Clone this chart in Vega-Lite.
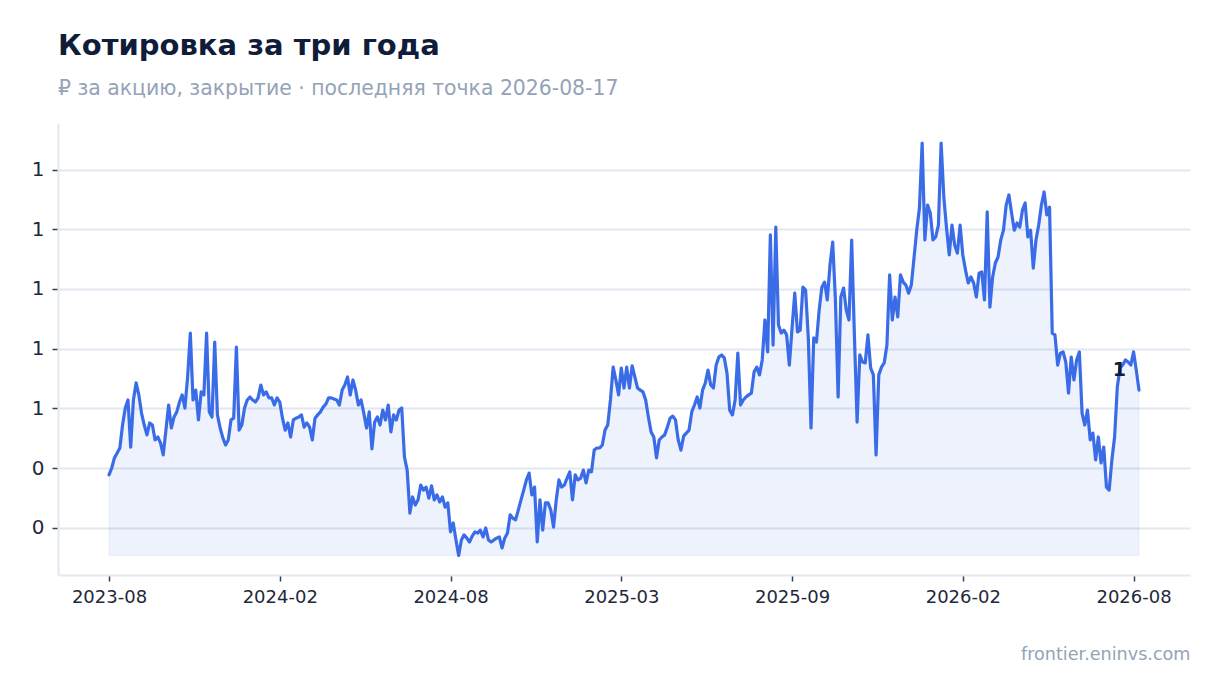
{
  "$schema": "https://vega.github.io/schema/vega-lite/v6.json",
  "description": "Share price over three years, daily close",
  "width": 1132,
  "height": 452,
  "autosize": {"type": "none"},
  "padding": {"left": 58, "top": 123, "right": 30, "bottom": 118},
  "background": "white",
  "title": {
    "text": "Котировка за три года",
    "subtitle": "₽ за акцию, закрытие · последняя точка 2026-08-17",
    "anchor": "start",
    "frame": "group",
    "font": "DejaVu Sans",
    "fontSize": 29,
    "fontWeight": "bold",
    "color": "#0f1d3a",
    "subtitleFont": "DejaVu Sans",
    "subtitleFontSize": 20.4,
    "subtitleColor": "#94a3b8",
    "subtitlePadding": 18,
    "offset": 24
  },
  "data": {
    "values": [
      {"date": "2023-08-17", "close": 0.377}, {"date": "2023-08-19", "close": 0.400}, {"date": "2023-08-22", "close": 0.434}, {"date": "2023-08-25", "close": 0.450}, {"date": "2023-08-28", "close": 0.467},
      {"date": "2023-09-01", "close": 0.544}, {"date": "2023-09-03", "close": 0.601}, {"date": "2023-09-06", "close": 0.628}, {"date": "2023-09-08", "close": 0.470}, {"date": "2023-09-11", "close": 0.628}, {"date": "2023-09-13", "close": 0.685},
      {"date": "2023-09-16", "close": 0.645}, {"date": "2023-09-18", "close": 0.584}, {"date": "2023-09-21", "close": 0.544}, {"date": "2023-09-23", "close": 0.511}, {"date": "2023-09-26", "close": 0.551}, {"date": "2023-09-28", "close": 0.544},
      {"date": "2023-10-01", "close": 0.494}, {"date": "2023-10-03", "close": 0.504}, {"date": "2023-10-06", "close": 0.484}, {"date": "2023-10-08", "close": 0.444}, {"date": "2023-10-11", "close": 0.527}, {"date": "2023-10-13", "close": 0.611},
      {"date": "2023-10-16", "close": 0.534}, {"date": "2023-10-18", "close": 0.571}, {"date": "2023-10-21", "close": 0.588}, {"date": "2023-10-23", "close": 0.621}, {"date": "2023-10-26", "close": 0.645}, {"date": "2023-10-28", "close": 0.601},
      {"date": "2023-11-01", "close": 0.705}, {"date": "2023-11-03", "close": 0.852}, {"date": "2023-11-06", "close": 0.628}, {"date": "2023-11-09", "close": 0.661}, {"date": "2023-11-11", "close": 0.561}, {"date": "2023-11-14", "close": 0.655},
      {"date": "2023-11-17", "close": 0.645}, {"date": "2023-11-19", "close": 0.852}, {"date": "2023-11-22", "close": 0.588}, {"date": "2023-11-25", "close": 0.571}, {"date": "2023-11-28", "close": 0.822},
      {"date": "2023-12-01", "close": 0.578}, {"date": "2023-12-03", "close": 0.534}, {"date": "2023-12-06", "close": 0.501}, {"date": "2023-12-08", "close": 0.477}, {"date": "2023-12-11", "close": 0.494}, {"date": "2023-12-13", "close": 0.561},
      {"date": "2023-12-16", "close": 0.567}, {"date": "2023-12-18", "close": 0.805}, {"date": "2023-12-21", "close": 0.527}, {"date": "2023-12-23", "close": 0.544}, {"date": "2023-12-26", "close": 0.601}, {"date": "2023-12-28", "close": 0.628},
      {"date": "2024-01-01", "close": 0.638}, {"date": "2024-01-03", "close": 0.628}, {"date": "2024-01-06", "close": 0.621}, {"date": "2024-01-09", "close": 0.635}, {"date": "2024-01-11", "close": 0.678}, {"date": "2024-01-14", "close": 0.645},
      {"date": "2024-01-17", "close": 0.655}, {"date": "2024-01-19", "close": 0.635}, {"date": "2024-01-22", "close": 0.635}, {"date": "2024-01-25", "close": 0.611}, {"date": "2024-01-28", "close": 0.635},
      {"date": "2024-02-01", "close": 0.621}, {"date": "2024-02-04", "close": 0.567}, {"date": "2024-02-07", "close": 0.527}, {"date": "2024-02-10", "close": 0.551}, {"date": "2024-02-13", "close": 0.504},
      {"date": "2024-02-16", "close": 0.561}, {"date": "2024-02-19", "close": 0.567}, {"date": "2024-02-22", "close": 0.571}, {"date": "2024-02-25", "close": 0.578}, {"date": "2024-02-28", "close": 0.537},
      {"date": "2024-03-01", "close": 0.551}, {"date": "2024-03-03", "close": 0.537}, {"date": "2024-03-06", "close": 0.494}, {"date": "2024-03-09", "close": 0.567}, {"date": "2024-03-11", "close": 0.578}, {"date": "2024-03-14", "close": 0.588},
      {"date": "2024-03-17", "close": 0.604}, {"date": "2024-03-19", "close": 0.614}, {"date": "2024-03-22", "close": 0.635}, {"date": "2024-03-25", "close": 0.635}, {"date": "2024-03-28", "close": 0.631},
      {"date": "2024-04-01", "close": 0.628}, {"date": "2024-04-04", "close": 0.611}, {"date": "2024-04-07", "close": 0.661}, {"date": "2024-04-10", "close": 0.678}, {"date": "2024-04-13", "close": 0.705},
      {"date": "2024-04-16", "close": 0.645}, {"date": "2024-04-19", "close": 0.695}, {"date": "2024-04-22", "close": 0.661}, {"date": "2024-04-25", "close": 0.611}, {"date": "2024-04-28", "close": 0.628},
      {"date": "2024-05-01", "close": 0.584}, {"date": "2024-05-03", "close": 0.534}, {"date": "2024-05-06", "close": 0.588}, {"date": "2024-05-09", "close": 0.464}, {"date": "2024-05-11", "close": 0.554}, {"date": "2024-05-14", "close": 0.571},
      {"date": "2024-05-17", "close": 0.544}, {"date": "2024-05-19", "close": 0.594}, {"date": "2024-05-22", "close": 0.561}, {"date": "2024-05-25", "close": 0.611}, {"date": "2024-05-28", "close": 0.521},
      {"date": "2024-06-01", "close": 0.578}, {"date": "2024-06-04", "close": 0.561}, {"date": "2024-06-07", "close": 0.594}, {"date": "2024-06-10", "close": 0.601}, {"date": "2024-06-13", "close": 0.437},
      {"date": "2024-06-16", "close": 0.393}, {"date": "2024-06-19", "close": 0.249}, {"date": "2024-06-22", "close": 0.303}, {"date": "2024-06-25", "close": 0.276}, {"date": "2024-06-28", "close": 0.293},
      {"date": "2024-07-01", "close": 0.343}, {"date": "2024-07-03", "close": 0.326}, {"date": "2024-07-06", "close": 0.336}, {"date": "2024-07-09", "close": 0.299}, {"date": "2024-07-11", "close": 0.340}, {"date": "2024-07-14", "close": 0.293},
      {"date": "2024-07-17", "close": 0.310}, {"date": "2024-07-19", "close": 0.286}, {"date": "2024-07-22", "close": 0.303}, {"date": "2024-07-25", "close": 0.269}, {"date": "2024-07-28", "close": 0.283},
      {"date": "2024-08-01", "close": 0.186}, {"date": "2024-08-04", "close": 0.216}, {"date": "2024-08-08", "close": 0.159}, {"date": "2024-08-11", "close": 0.107}, {"date": "2024-08-15", "close": 0.159},
      {"date": "2024-08-18", "close": 0.176}, {"date": "2024-08-21", "close": 0.165}, {"date": "2024-08-25", "close": 0.152}, {"date": "2024-08-28", "close": 0.172},
      {"date": "2024-09-01", "close": 0.186}, {"date": "2024-09-04", "close": 0.182}, {"date": "2024-09-08", "close": 0.192}, {"date": "2024-09-11", "close": 0.169}, {"date": "2024-09-15", "close": 0.199},
      {"date": "2024-09-18", "close": 0.159}, {"date": "2024-09-21", "close": 0.152}, {"date": "2024-09-25", "close": 0.159}, {"date": "2024-09-28", "close": 0.165},
      {"date": "2024-10-01", "close": 0.169}, {"date": "2024-10-04", "close": 0.132}, {"date": "2024-10-08", "close": 0.165}, {"date": "2024-10-11", "close": 0.182}, {"date": "2024-10-15", "close": 0.243},
      {"date": "2024-10-18", "close": 0.232}, {"date": "2024-10-21", "close": 0.226}, {"date": "2024-10-25", "close": 0.259}, {"date": "2024-10-28", "close": 0.293},
      {"date": "2024-11-01", "close": 0.326}, {"date": "2024-11-04", "close": 0.360}, {"date": "2024-11-08", "close": 0.383}, {"date": "2024-11-11", "close": 0.310}, {"date": "2024-11-15", "close": 0.336},
      {"date": "2024-11-18", "close": 0.152}, {"date": "2024-11-21", "close": 0.293}, {"date": "2024-11-25", "close": 0.192}, {"date": "2024-11-28", "close": 0.283},
      {"date": "2024-12-01", "close": 0.283}, {"date": "2024-12-04", "close": 0.259}, {"date": "2024-12-08", "close": 0.202}, {"date": "2024-12-11", "close": 0.293}, {"date": "2024-12-15", "close": 0.360},
      {"date": "2024-12-18", "close": 0.336}, {"date": "2024-12-21", "close": 0.343}, {"date": "2024-12-25", "close": 0.366}, {"date": "2024-12-28", "close": 0.387},
      {"date": "2025-01-01", "close": 0.293}, {"date": "2025-01-04", "close": 0.377}, {"date": "2025-01-08", "close": 0.360}, {"date": "2025-01-11", "close": 0.366}, {"date": "2025-01-15", "close": 0.393},
      {"date": "2025-01-18", "close": 0.350}, {"date": "2025-01-21", "close": 0.393}, {"date": "2025-01-25", "close": 0.387}, {"date": "2025-01-28", "close": 0.460},
      {"date": "2025-02-01", "close": 0.467}, {"date": "2025-02-04", "close": 0.467}, {"date": "2025-02-08", "close": 0.477}, {"date": "2025-02-11", "close": 0.527}, {"date": "2025-02-15", "close": 0.544},
      {"date": "2025-02-18", "close": 0.628}, {"date": "2025-02-21", "close": 0.738}, {"date": "2025-02-25", "close": 0.695}, {"date": "2025-02-28", "close": 0.645},
      {"date": "2025-03-01", "close": 0.735}, {"date": "2025-03-04", "close": 0.668}, {"date": "2025-03-07", "close": 0.738}, {"date": "2025-03-10", "close": 0.668}, {"date": "2025-03-13", "close": 0.742},
      {"date": "2025-03-16", "close": 0.705}, {"date": "2025-03-19", "close": 0.668}, {"date": "2025-03-22", "close": 0.661}, {"date": "2025-03-25", "close": 0.655}, {"date": "2025-03-28", "close": 0.628},
      {"date": "2025-04-01", "close": 0.571}, {"date": "2025-04-03", "close": 0.521}, {"date": "2025-04-06", "close": 0.504}, {"date": "2025-04-09", "close": 0.434}, {"date": "2025-04-11", "close": 0.494}, {"date": "2025-04-14", "close": 0.504},
      {"date": "2025-04-17", "close": 0.511}, {"date": "2025-04-19", "close": 0.537}, {"date": "2025-04-22", "close": 0.567}, {"date": "2025-04-25", "close": 0.574}, {"date": "2025-04-28", "close": 0.561},
      {"date": "2025-05-01", "close": 0.494}, {"date": "2025-05-04", "close": 0.460}, {"date": "2025-05-07", "close": 0.507}, {"date": "2025-05-10", "close": 0.517}, {"date": "2025-05-13", "close": 0.527},
      {"date": "2025-05-16", "close": 0.588}, {"date": "2025-05-19", "close": 0.611}, {"date": "2025-05-22", "close": 0.638}, {"date": "2025-05-25", "close": 0.601}, {"date": "2025-05-28", "close": 0.661},
      {"date": "2025-06-01", "close": 0.685}, {"date": "2025-06-03", "close": 0.728}, {"date": "2025-06-06", "close": 0.678}, {"date": "2025-06-09", "close": 0.668}, {"date": "2025-06-11", "close": 0.745}, {"date": "2025-06-14", "close": 0.772},
      {"date": "2025-06-17", "close": 0.779}, {"date": "2025-06-19", "close": 0.769}, {"date": "2025-06-22", "close": 0.718}, {"date": "2025-06-25", "close": 0.594}, {"date": "2025-06-28", "close": 0.578},
      {"date": "2025-07-01", "close": 0.628}, {"date": "2025-07-04", "close": 0.785}, {"date": "2025-07-07", "close": 0.611}, {"date": "2025-07-10", "close": 0.628}, {"date": "2025-07-13", "close": 0.638},
      {"date": "2025-07-16", "close": 0.645}, {"date": "2025-07-19", "close": 0.651}, {"date": "2025-07-22", "close": 0.722}, {"date": "2025-07-25", "close": 0.738}, {"date": "2025-07-28", "close": 0.712},
      {"date": "2025-08-01", "close": 0.762}, {"date": "2025-08-03", "close": 0.896}, {"date": "2025-08-06", "close": 0.789}, {"date": "2025-08-09", "close": 1.181}, {"date": "2025-08-11", "close": 0.812}, {"date": "2025-08-14", "close": 1.207},
      {"date": "2025-08-17", "close": 0.879}, {"date": "2025-08-19", "close": 0.852}, {"date": "2025-08-22", "close": 0.862}, {"date": "2025-08-25", "close": 0.846}, {"date": "2025-08-28", "close": 0.745},
      {"date": "2025-09-01", "close": 0.869}, {"date": "2025-09-03", "close": 0.986}, {"date": "2025-09-06", "close": 0.856}, {"date": "2025-09-08", "close": 0.862}, {"date": "2025-09-11", "close": 1.006}, {"date": "2025-09-13", "close": 0.996},
      {"date": "2025-09-16", "close": 0.836}, {"date": "2025-09-18", "close": 0.534}, {"date": "2025-09-21", "close": 0.836}, {"date": "2025-09-23", "close": 0.822}, {"date": "2025-09-26", "close": 0.929}, {"date": "2025-09-28", "close": 1.006},
      {"date": "2025-10-01", "close": 1.023}, {"date": "2025-10-03", "close": 0.963}, {"date": "2025-10-06", "close": 1.080}, {"date": "2025-10-08", "close": 1.157}, {"date": "2025-10-11", "close": 0.963}, {"date": "2025-10-13", "close": 0.638},
      {"date": "2025-10-16", "close": 0.973}, {"date": "2025-10-18", "close": 1.003}, {"date": "2025-10-21", "close": 0.929}, {"date": "2025-10-23", "close": 0.896}, {"date": "2025-10-26", "close": 1.164}, {"date": "2025-10-28", "close": 0.846},
      {"date": "2025-11-01", "close": 0.554}, {"date": "2025-11-03", "close": 0.779}, {"date": "2025-11-06", "close": 0.755}, {"date": "2025-11-08", "close": 0.752}, {"date": "2025-11-11", "close": 0.846}, {"date": "2025-11-13", "close": 0.735},
      {"date": "2025-11-16", "close": 0.712}, {"date": "2025-11-18", "close": 0.444}, {"date": "2025-11-21", "close": 0.712}, {"date": "2025-11-23", "close": 0.738}, {"date": "2025-11-26", "close": 0.752}, {"date": "2025-11-28", "close": 0.812},
      {"date": "2025-12-01", "close": 1.047}, {"date": "2025-12-03", "close": 0.896}, {"date": "2025-12-06", "close": 0.973}, {"date": "2025-12-08", "close": 0.906}, {"date": "2025-12-11", "close": 1.047}, {"date": "2025-12-13", "close": 1.023},
      {"date": "2025-12-16", "close": 1.013}, {"date": "2025-12-18", "close": 0.986}, {"date": "2025-12-21", "close": 1.013}, {"date": "2025-12-23", "close": 1.104}, {"date": "2025-12-26", "close": 1.197}, {"date": "2025-12-28", "close": 1.271},
      {"date": "2026-01-01", "close": 1.489}, {"date": "2026-01-03", "close": 1.164}, {"date": "2026-01-06", "close": 1.281}, {"date": "2026-01-08", "close": 1.254}, {"date": "2026-01-11", "close": 1.164}, {"date": "2026-01-13", "close": 1.174},
      {"date": "2026-01-16", "close": 1.214}, {"date": "2026-01-18", "close": 1.489}, {"date": "2026-01-21", "close": 1.308}, {"date": "2026-01-23", "close": 1.204}, {"date": "2026-01-26", "close": 1.114}, {"date": "2026-01-28", "close": 1.214},
      {"date": "2026-02-01", "close": 1.147}, {"date": "2026-02-04", "close": 1.120}, {"date": "2026-02-07", "close": 1.214}, {"date": "2026-02-10", "close": 1.114}, {"date": "2026-02-13", "close": 1.063},
      {"date": "2026-02-16", "close": 1.020}, {"date": "2026-02-19", "close": 1.040}, {"date": "2026-02-22", "close": 1.020}, {"date": "2026-02-25", "close": 0.973}, {"date": "2026-02-28", "close": 1.053},
      {"date": "2026-03-01", "close": 1.057}, {"date": "2026-03-04", "close": 0.963}, {"date": "2026-03-07", "close": 1.258}, {"date": "2026-03-10", "close": 0.939}, {"date": "2026-03-13", "close": 1.040},
      {"date": "2026-03-16", "close": 1.087}, {"date": "2026-03-19", "close": 1.107}, {"date": "2026-03-22", "close": 1.164}, {"date": "2026-03-25", "close": 1.197}, {"date": "2026-03-28", "close": 1.281},
      {"date": "2026-04-01", "close": 1.315}, {"date": "2026-04-04", "close": 1.254}, {"date": "2026-04-07", "close": 1.197}, {"date": "2026-04-10", "close": 1.221}, {"date": "2026-04-13", "close": 1.207},
      {"date": "2026-04-16", "close": 1.264}, {"date": "2026-04-19", "close": 1.288}, {"date": "2026-04-22", "close": 1.174}, {"date": "2026-04-25", "close": 1.197}, {"date": "2026-04-28", "close": 1.070},
      {"date": "2026-05-01", "close": 1.164}, {"date": "2026-05-04", "close": 1.214}, {"date": "2026-05-07", "close": 1.281}, {"date": "2026-05-10", "close": 1.325}, {"date": "2026-05-13", "close": 1.248},
      {"date": "2026-05-16", "close": 1.274}, {"date": "2026-05-19", "close": 0.852}, {"date": "2026-05-22", "close": 0.846}, {"date": "2026-05-25", "close": 0.745}, {"date": "2026-05-28", "close": 0.785},
      {"date": "2026-06-01", "close": 0.789}, {"date": "2026-06-04", "close": 0.755}, {"date": "2026-06-07", "close": 0.651}, {"date": "2026-06-10", "close": 0.772}, {"date": "2026-06-13", "close": 0.695},
      {"date": "2026-06-16", "close": 0.762}, {"date": "2026-06-19", "close": 0.789}, {"date": "2026-06-22", "close": 0.584}, {"date": "2026-06-25", "close": 0.544}, {"date": "2026-06-28", "close": 0.594},
      {"date": "2026-07-01", "close": 0.494}, {"date": "2026-07-04", "close": 0.517}, {"date": "2026-07-07", "close": 0.427}, {"date": "2026-07-10", "close": 0.504}, {"date": "2026-07-13", "close": 0.417},
      {"date": "2026-07-16", "close": 0.470}, {"date": "2026-07-19", "close": 0.336}, {"date": "2026-07-22", "close": 0.326}, {"date": "2026-07-25", "close": 0.427}, {"date": "2026-07-28", "close": 0.504},
      {"date": "2026-08-01", "close": 0.671}, {"date": "2026-08-03", "close": 0.735}, {"date": "2026-08-05", "close": 0.745}, {"date": "2026-08-07", "close": 0.762}, {"date": "2026-08-09", "close": 0.755},
      {"date": "2026-08-11", "close": 0.745}, {"date": "2026-08-13", "close": 0.789}, {"date": "2026-08-15", "close": 0.728}, {"date": "2026-08-17", "close": 0.661}
    ]
  },
  "transform": [
    {"window": [{"op": "row_number", "as": "session"}], "sort": [{"field": "date", "order": "ascending"}]},
    {"joinaggregate": [{"op": "min", "field": "close", "as": "low"}]}
  ],
  "encoding": {
    "x": {
      "field": "session",
      "type": "quantitative",
      "scale": {"domain": [-17.82, 399.82], "nice": false, "zero": false},
      "axis": {
        "values": [1, 64, 127, 190, 253, 316, 379],
        "labelExpr": "['2023-08', '2024-02', '2024-08', '2025-03', '2025-09', '2026-02', '2026-08'][(datum.value - 1) / 63]",
        "labelFontSize": 18,
        "labelColor": "#1e293b",
        "labelPadding": 7,
        "labelFlush": false,
        "tickColor": "#334155",
        "tickSize": 6,
        "tickWidth": 1.5,
        "domainColor": "#e2e8f0",
        "domainWidth": 2,
        "grid": false,
        "title": "frontier.eninvs.com",
        "titleAnchor": "end",
        "titleFontSize": 17.6,
        "titleFontWeight": "normal",
        "titleColor": "#94a3b8",
        "titlePadding": 39
      }
    },
    "y": {
      "field": "close",
      "type": "quantitative",
      "scale": {"domain": [0.0415, 1.556], "nice": false, "zero": false},
      "axis": {
        "values": [0.2, 0.4, 0.6, 0.8, 1.0, 1.2, 1.4],
        "format": ".0f",
        "title": null,
        "labelFontSize": 20,
        "labelColor": "#1e293b",
        "labelPadding": 8,
        "tickColor": "#334155",
        "tickSize": 6,
        "tickWidth": 1.5,
        "domainColor": "#e2e8f0",
        "domainWidth": 2,
        "gridColor": "#e2e8f0",
        "gridWidth": 2
      }
    }
  },
  "layer": [
    {
      "mark": {"type": "area", "color": "#3b6ce8", "fillOpacity": 0.09, "stroke": "#3b6ce8", "strokeOpacity": 0.08, "strokeWidth": 1},
      "encoding": {"y2": {"field": "low"}}
    },
    {
      "mark": {"type": "line", "color": "#3b6ce8", "strokeWidth": 3.2, "strokeJoin": "round", "strokeCap": "round"}
    },
    {
      "transform": [{"filter": {"field": "date", "equal": "2026-08-17"}}],
      "mark": {"type": "text", "align": "right", "baseline": "alphabetic", "dx": -13, "dy": -14, "fontSize": 19, "fontWeight": "bold", "color": "#0f1d3a"},
      "encoding": {"text": {"field": "close", "type": "quantitative", "format": ".0f"}}
    }
  ],
  "config": {
    "font": "DejaVu Sans",
    "view": {"stroke": null},
    "axis": {"labelFont": "DejaVu Sans", "titleFont": "DejaVu Sans"}
  }
}
